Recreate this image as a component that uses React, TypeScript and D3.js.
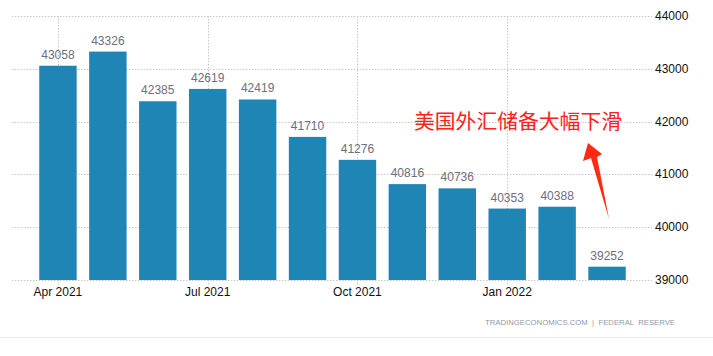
import React from "react";
import * as d3 from "d3";

const months = ["Apr 2021","May 2021","Jun 2021","Jul 2021","Aug 2021","Sep 2021","Oct 2021","Nov 2021","Dec 2021","Jan 2022","Feb 2022","Mar 2022"];
const values = [43058, 43326, 42385, 42619, 42419, 41710, 41276, 40816, 40736, 40353, 40388, 39252];
const xTickLabels = ["Apr 2021", "Jul 2021", "Oct 2021", "Jan 2022"];
const yTicks = [39000, 40000, 41000, 42000, 43000, 44000];
const annotation = "美国外汇储备大幅下滑";
const source = "TRADINGECONOMICS.COM  |  FEDERAL  RESERVE";

const W = 713, H = 356;
const FONT = "'Liberation Sans', Arial, sans-serif";

export default function App() {
  const x = d3.scaleBand<string>().domain(months).range([33, 632]).paddingInner(0.25).paddingOuter(0.125);
  const y = d3.scaleLinear().domain([39000, 44000]).range([280, 16]);
  const gridLeft = 12, gridRight = 652;
  const bw = x.bandwidth();

  // arrow geometry (annotation)
  const tip: [number, number] = [588, 143];
  const tail: [number, number] = [609, 219];
  const arrowPts = [
    tip, [583, 161], [591, 158], tail, [597, 157], [602, 154],
  ];

  return (
    <div style={{ position: "absolute", left: 0, top: 0 }}>
      <svg width={W} height={H} style={{ display: "block", background: "#fff" }}>
        {/* horizontal grid */}
        {yTicks.map((t) => (
          <line key={"h" + t} x1={gridLeft} x2={gridRight} y1={Math.round(y(t)) + 0.5} y2={Math.round(y(t)) + 0.5}
            stroke="#c8c8c8" strokeDasharray="1.5,1.5" strokeWidth={1} />
        ))}
        {/* vertical grid */}
        {xTickLabels.map((m) => {
          const cx = Math.round(x(m)! + bw / 2) + 0.5;
          return (
            <line key={"v" + m} x1={cx} x2={cx} y1={y(44000)} y2={y(39000) + 5}
              stroke="#c8c8c8" strokeDasharray="1.5,1.5" strokeWidth={1} />
          );
        })}
        {/* bars */}
        {months.map((m, i) => (
          <rect key={m} x={x(m)!} y={y(values[i])} width={bw} height={y(39000) - y(values[i])} fill="#1f85b5" />
        ))}
        {/* value labels */}
        {months.map((m, i) => (
          <text key={"l" + m} x={x(m)! + bw / 2} y={y(values[i]) - 7} textAnchor="middle"
            fontFamily={FONT} fontSize={12} fill="#6e6e7e">{values[i]}</text>
        ))}
        {/* x tick labels */}
        {xTickLabels.map((m) => (
          <text key={"xt" + m} x={x(m)! + bw / 2} y={296} textAnchor="middle"
            fontFamily={FONT} fontSize={12} fill="#111">{m}</text>
        ))}
        {/* y tick labels */}
        {yTicks.map((t) => (
          <text key={"yt" + t} x={655} y={y(t) + 4} textAnchor="start"
            fontFamily={FONT} fontSize={12} fill="#111">{t}</text>
        ))}
        {/* annotation */}
        <text x={414} y={129} fontFamily="'Noto Sans CJK SC', sans-serif" fontSize={20.5} fill="#ff2020"
          textLength={208} lengthAdjust="spacingAndGlyphs">{annotation}</text>
        <polygon points={arrowPts.map((p) => p.join(",")).join(" ")} fill="#ff2a14" />
        {/* source */}
        <text x={485} y={325} fontFamily={FONT} fontSize={8} fill="#8d9aa8" style={{ whiteSpace: "pre" }}
          textLength={190} lengthAdjust="spacingAndGlyphs">{source}</text>
        <line x1={0} x2={W} y1={337.5} y2={337.5} stroke="#eeeeee" strokeWidth={1} />
      </svg>
    </div>
  );
}
